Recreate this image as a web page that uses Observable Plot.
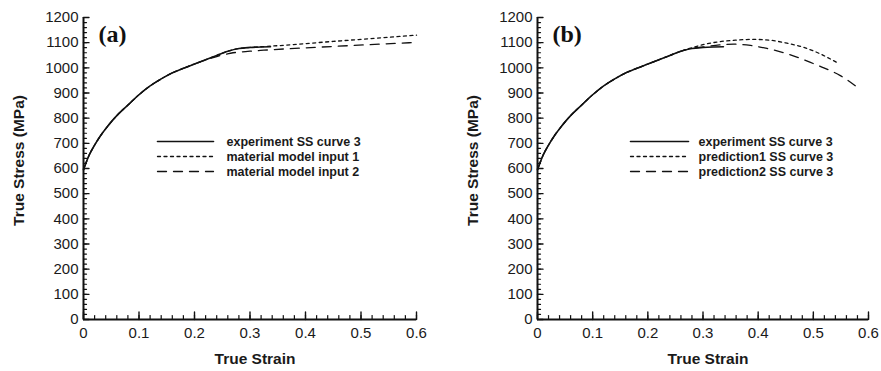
<!DOCTYPE html>
<html><head><meta charset="utf-8">
<script src="https://cdn.jsdelivr.net/npm/d3@7"></script>
<script src="https://cdn.jsdelivr.net/npm/@observablehq/plot@0.6"></script>
<style>
html,body{margin:0;padding:0;background:#fff;}
#wrap{display:flex;width:881px;height:371px;overflow:hidden;}
</style></head><body><div id="wrap"></div>
<script>
// ---- ticks & labels ----
const xMajorTicks = [0, 0.1, 0.2, 0.3, 0.4, 0.5, 0.6];
const xTickLabels = ["0", "0.1", "0.2", "0.3", "0.4", "0.5", "0.6"];
const yMajorTicks = [0, 100, 200, 300, 400, 500, 600, 700, 800, 900, 1000, 1100, 1200];
const yTickLabels = ["0", "100", "200", "300", "400", "500", "600", "700", "800", "900", "1000", "1100", "1200"];
const xMinorTicks = d3.range(0, 0.6001, 0.02);
const yMinorTicks = d3.range(0, 1200.1, 20);
const xTitle = "True Strain";
const yTitle = "True Stress (MPa)";
const panelTags = ["(a)", "(b)"];
const legendA = ["experiment SS curve 3", "material model input 1", "material model input 2"];
const legendB = ["experiment SS curve 3", "prediction1 SS curve 3", "prediction2 SS curve 3"];

// ---- series (true strain, true stress MPa) ----
const expX = [0, 0.005, 0.01, 0.02, 0.03, 0.045, 0.06, 0.08, 0.1, 0.12, 0.14, 0.16, 0.18, 0.2, 0.22, 0.24, 0.26, 0.28, 0.30, 0.32, 0.337];
const expY = [595, 625, 652, 693, 728, 772, 810, 852, 893, 928, 956, 980, 998, 1015, 1032, 1049, 1066, 1077, 1081, 1083, 1084];

const input1X = [0, 0.005, 0.01, 0.02, 0.03, 0.045, 0.06, 0.08, 0.1, 0.12, 0.14, 0.16, 0.18, 0.2, 0.22, 0.24, 0.26, 0.28, 0.30, 0.337, 0.45, 0.6];
const input1Y = [595, 625, 652, 693, 728, 772, 810, 852, 893, 928, 956, 980, 998, 1015, 1032, 1049, 1066, 1077, 1081, 1086, 1105, 1130];

const input2X = [0, 0.005, 0.01, 0.02, 0.03, 0.045, 0.06, 0.08, 0.1, 0.12, 0.14, 0.16, 0.18, 0.2, 0.22, 0.24, 0.265, 0.30, 0.325, 0.45, 0.6];
const input2Y = [595, 625, 652, 693, 728, 772, 810, 852, 893, 928, 956, 980, 998, 1015, 1031, 1045, 1058, 1066, 1070, 1085, 1101];

const pred1X = [0, 0.005, 0.01, 0.02, 0.03, 0.045, 0.06, 0.08, 0.1, 0.12, 0.14, 0.16, 0.18, 0.2, 0.22, 0.24, 0.26, 0.28, 0.30, 0.33, 0.36, 0.39, 0.42, 0.45, 0.48, 0.51, 0.543];
const pred1Y = [595, 625, 652, 693, 728, 772, 810, 852, 893, 928, 956, 980, 998, 1015, 1032, 1049, 1066, 1080, 1092, 1104, 1110, 1113, 1110, 1099, 1083, 1058, 1021];

const pred2X = [0, 0.005, 0.01, 0.02, 0.03, 0.045, 0.06, 0.08, 0.1, 0.12, 0.14, 0.16, 0.18, 0.2, 0.22, 0.24, 0.26, 0.28, 0.30, 0.33, 0.356, 0.386, 0.416, 0.446, 0.476, 0.50, 0.519, 0.549, 0.576];
const pred2Y = [595, 625, 652, 693, 728, 772, 810, 852, 893, 928, 956, 980, 998, 1015, 1032, 1049, 1066, 1077, 1083, 1091, 1094, 1089, 1077, 1060, 1038, 1017, 1000, 969, 929];

// ---- drawing ----
const INK = "#111";
const rows = (xs, ys) => xs.map((x, i) => ({x, y: ys[i]}));
const tickRight = {draw(ctx, l) { ctx.moveTo(0, 0); ctx.lineTo(l, 0); }};
const tickUp = {draw(ctx, l) { ctx.moveTo(0, 0); ctx.lineTo(0, -l); }};
const xFmt = new Map(xMajorTicks.map((t, i) => [t, xTickLabels[i]]));
const yFmt = new Map(yMajorTicks.map((t, i) => [t, yTickLabels[i]]));
const styles = [
  {dash: null, w: 1.6},
  {dash: "3,3.5", w: 1.3},
  {dash: "9,7", w: 1.3}
];

function panel(cfg) {
  const legendMarks = [];
  cfg.legend.forEach((label, i) => {
    legendMarks.push(Plot.vector([0], {frameAnchor: "top-left", dx: cfg.legLineDx, dy: 124 + i * 15,
      length: cfg.legLineLen, shape: tickRight, anchor: "start", stroke: INK,
      strokeWidth: styles[i].w, strokeDasharray: styles[i].dash}));
    legendMarks.push(Plot.text([label], {frameAnchor: "top-left", dx: cfg.legTextDx, dy: 124 + i * 15,
      textAnchor: "start", lineAnchor: "middle", fontWeight: "bold", fontSize: 12.5, fill: "#1a1a1a"}));
  });
  return Plot.plot({
    width: cfg.width, height: 371,
    marginLeft: cfg.ml, marginRight: cfg.mr, marginTop: 17, marginBottom: 52,
    x: {domain: [0, 0.6]},
    y: {domain: [0, 1200]},
    style: {fontFamily: "'Liberation Sans', Arial, sans-serif", background: "#fff", color: "#1a1a1a", overflow: "visible"},
    marks: [
      ...cfg.series.map((s, i) => Plot.line(rows(s[0], s[1]), {x: "x", y: "y", stroke: INK,
        strokeWidth: styles[i].w, strokeDasharray: styles[i].dash, curve: "monotone-x"})).reverse(),
      Plot.ruleX([0], {stroke: INK, strokeWidth: 2}),
      Plot.ruleY([0], {stroke: INK, strokeWidth: 2}),
      Plot.vector(yMinorTicks, {x: 0, y: d => d, length: 3, shape: tickRight, anchor: "start", stroke: INK, strokeWidth: 1.2}),
      Plot.vector(yMajorTicks, {x: 0, y: d => d, length: 5.5, shape: tickRight, anchor: "start", stroke: INK, strokeWidth: 1.4}),
      Plot.vector(xMinorTicks, {x: d => d, y: 0, length: 4, shape: tickUp, anchor: "start", stroke: INK, strokeWidth: 1.2}),
      Plot.vector(xMajorTicks, {x: d => d, y: 0, length: 7.5, shape: tickUp, anchor: "start", stroke: INK, strokeWidth: 1.4}),
      Plot.axisX(xMajorTicks, {tickSize: 0, tickPadding: 8, tickFormat: d => xFmt.get(d), fontSize: 15, label: null}),
      Plot.axisY(yMajorTicks, {tickSize: 0, tickPadding: 5, tickFormat: d => yFmt.get(d), fontSize: 15, label: null}),
      Plot.text([xTitle], {frameAnchor: "bottom", dx: 5, dy: 40, textAnchor: "middle", lineAnchor: "middle", fontWeight: "bold", fontSize: 15.5}),
      Plot.text([yTitle], {frameAnchor: "left", rotate: -90, dx: -64.5, dy: -8, textAnchor: "middle", lineAnchor: "middle", fontWeight: "bold", fontSize: 15.5}),
      Plot.text([cfg.tag], {frameAnchor: "top-left", dx: 15, dy: 7, textAnchor: "start", lineAnchor: "top",
        fontFamily: "'Liberation Serif', 'Times New Roman', serif", fontWeight: "bold", fontSize: 24, fill: "#111"}),
      ...legendMarks
    ]
  });
}

const wrap = document.getElementById("wrap");
wrap.append(panel({
  width: 440, ml: 83, mr: 24, tag: panelTags[0], legend: legendA,
  legLineDx: 74, legLineLen: 56, legTextDx: 143,
  series: [[expX, expY], [input1X, input1Y], [input2X, input2Y]]
}));
wrap.append(panel({
  width: 441, ml: 97, mr: 13, tag: panelTags[1], legend: legendB,
  legLineDx: 93, legLineLen: 58, legTextDx: 161,
  series: [[expX, expY], [pred1X, pred1Y], [pred2X, pred2Y]]
}));
</script></body></html>
